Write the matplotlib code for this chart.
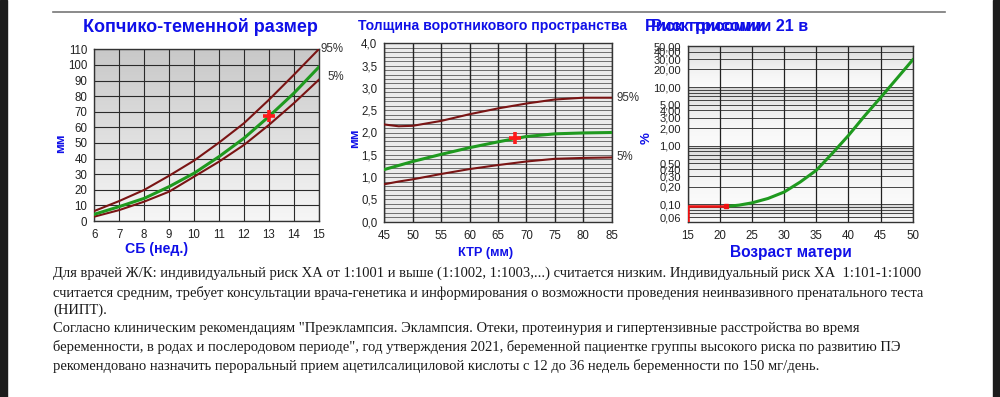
import matplotlib
matplotlib.use('Agg')
import matplotlib.pyplot as plt
import numpy as np
from matplotlib.patches import Rectangle
from matplotlib.lines import Line2D

# ---------------- data ----------------
crl_weeks = [6, 7, 8, 9, 10, 11, 12, 13, 14, 15]
crl_p95 = [6.4, 12.8, 19.9, 29.0, 38.7, 50.2, 62.6, 77.6, 93.6, 110.0]
crl_p50 = [4.3, 9.2, 14.5, 22.0, 30.6, 41.2, 53.0, 66.9, 81.8, 98.5]
crl_p5 = [2.8, 7.0, 12.4, 18.8, 28.4, 38.0, 48.7, 61.5, 75.4, 90.4]
crl_patient_x, crl_patient_y = 13, 67.5
crl_yticks = [0, 10, 20, 30, 40, 50, 60, 70, 80, 90, 100, 110]
crl_xticks = [6, 7, 8, 9, 10, 11, 12, 13, 14, 15]

nt_crl = [45, 47.5, 50, 55, 60, 65, 70, 75, 80, 85]
nt_p95 = [2.18, 2.14, 2.15, 2.26, 2.41, 2.54, 2.65, 2.74, 2.78, 2.78]
nt_p50 = [1.17, 1.26, 1.35, 1.51, 1.66, 1.79, 1.91, 1.97, 1.99, 2.00]
nt_p5 = [0.84, 0.90, 0.95, 1.07, 1.18, 1.27, 1.35, 1.41, 1.43, 1.44]
nt_patient_x, nt_patient_y = 68, 1.88
nt_yticks = [0.0, 0.5, 1.0, 1.5, 2.0, 2.5, 3.0, 3.5, 4.0]
nt_xticks = [45, 50, 55, 60, 65, 70, 75, 80, 85]

age = [21, 23, 25, 27.5, 30, 32.5, 35, 37.5, 40, 42.5, 45, 47.5, 50]
age_risk = [0.092, 0.097, 0.106, 0.126, 0.162, 0.24, 0.38, 0.74, 1.49, 3.2, 6.6, 13.8, 29.0]
patient_age, patient_risk = 21, 0.092
risk_yticks = [0.06, 0.10, 0.20, 0.30, 0.40, 0.50, 1.00, 2.00, 3.00, 4.00, 5.00,
               10.00, 20.00, 30.00, 40.00, 50.00]
risk_grid = [0.05, 0.06, 0.07, 0.08, 0.09, 0.1, 0.2, 0.3, 0.4, 0.5, 0.6, 0.7, 0.8, 0.9,
             1, 2, 3, 4, 5, 6, 7, 8, 9, 10, 20, 30, 40, 50]
age_xticks = [15, 20, 25, 30, 35, 40, 45, 50]

paragraph = [
    "Для врачей Ж/К: индивидуальный риск ХА от 1:1001 и выше (1:1002, 1:1003,...) считается низким. Индивидуальный риск ХА  1:101-1:1000",
    "считается средним, требует консультации врача-генетика и информирования о возможности проведения неинвазивного пренатального теста",
    "(НИПТ).",
    "Согласно клиническим рекомендациям \"Преэклампсия. Эклампсия. Отеки, протеинурия и гипертензивные расстройства во время",
    "беременности, в родах и послеродовом периоде\", год утверждения 2021, беременной пациентке группы высокого риска по развитию ПЭ",
    "рекомендовано назначить пероральный прием ацетилсалициловой кислоты с 12 до 36 недель беременности по 150 мг/день.",
]

# ---------------- figure ----------------
W, H = 1000, 397
fig = plt.figure(figsize=(W / 100, H / 100), dpi=100)
fig.patch.set_facecolor('white')
plt.rcParams['font.family'] = ['Liberation Sans', 'DejaVu Sans']

BLUE = '#1010e8'
DRED = '#7a1414'
GREEN = '#1f9a1f'
TICK = 8.3


def fx(x):
    return x / W


def fy(y):
    return 1 - y / H


def add_axes(x0, y0, x1, y1):
    return fig.add_axes([fx(x0), fy(y1), (x1 - x0) / W, (y1 - y0) / H])


renderer = fig.canvas.get_renderer()


def fit(t, width_px):
    bb = t.get_window_extent(renderer)
    t.set_fontsize(t.get_fontsize() * width_px / bb.width)


def gradient(ax, top, bottom, extent=None):
    g = np.linspace(0, 1, 256).reshape(-1, 1)
    ct = np.array(matplotlib.colors.to_rgb(top))
    cb = np.array(matplotlib.colors.to_rgb(bottom))
    img = ct[None, None, :] * (1 - g[:, :, None]) + cb[None, None, :] * g[:, :, None]
    ax.imshow(img, extent=extent if extent else (0, 1, 0, 1),
              transform=ax.transAxes if not extent else ax.transData,
              aspect='auto', zorder=0, interpolation='bilinear')


def style(ax):
    for s in ax.spines.values():
        s.set_color('#333333')
        s.set_linewidth(1.0)
    ax.tick_params(length=0, labelsize=TICK, colors='#222222')
    ax.tick_params(axis='y', pad=5)
    ax.tick_params(axis='x', pad=6)


# ---- left: CRL ----
ax1 = add_axes(94.3, 49.3, 318.7, 221)
gradient(ax1, '#c8c8c8', '#f6f6f6')
ax1.set_xlim(6, 15)
ax1.set_ylim(0, 110)
ax1.set_xticks(crl_xticks)
ax1.set_yticks(crl_yticks)
ax1.grid(True, color='#2a2a2a', linewidth=0.8, zorder=1)
ax1.set_axisbelow(True)
ax1.plot(crl_weeks, crl_p95, color=DRED, lw=1.5, zorder=3)
ax1.plot(crl_weeks, crl_p5, color=DRED, lw=1.5, zorder=3)
ax1.plot(crl_weeks, crl_p50, color=GREEN, lw=2.2, zorder=3)
ax1.plot([crl_patient_x], [crl_patient_y], marker='+', color='#ff1a1a', ms=9, mew=2.6, zorder=4)
style(ax1)
ax1.text(1.01, crl_p95[-1], '95%', transform=ax1.get_yaxis_transform(), fontsize=TICK, color='#333333',
         va='center', ha='left')
ax1.text(1.04, crl_p5[-1] + 2, '5%', transform=ax1.get_yaxis_transform(), fontsize=TICK, color='#333333',
         va='center', ha='left')

# ---- middle: NT ----
ax2 = add_axes(384.3, 43.3, 611.7, 221.7)
ax2.set_facecolor('#ebebeb')
ax2.set_xlim(45, 85)
ax2.set_ylim(0, 4.0)
ax2.set_xticks(nt_xticks)
ax2.set_yticks(nt_yticks)
ax2.set_yticklabels([f"{v:.1f}".replace('.', ',') for v in nt_yticks])
for v in np.arange(0.1, 4.0, 0.1):
    ax2.axhline(v, color='#666666', lw=0.65, zorder=1)
for v in nt_xticks:
    ax2.axvline(v, color='#222222', lw=1.0, zorder=1)
ax2.plot(nt_crl, nt_p95, color=DRED, lw=1.5, zorder=3)
ax2.plot(nt_crl, nt_p5, color=DRED, lw=1.5, zorder=3)
ax2.plot(nt_crl, nt_p50, color=GREEN, lw=2.2, zorder=3)
ax2.plot([nt_patient_x], [nt_patient_y], marker='+', color='#ff1a1a', ms=9, mew=2.6, zorder=4)
style(ax2)
ax2.text(1.02, nt_p95[-1], '95%', transform=ax2.get_yaxis_transform(), fontsize=TICK, color='#333333',
         va='center', ha='left')
ax2.text(1.02, nt_p5[-1], '5%', transform=ax2.get_yaxis_transform(), fontsize=TICK, color='#333333',
         va='center', ha='left')

# ---- right: maternal age risk ----
ax3 = add_axes(687.7, 46, 912.7, 222)
ax3.set_yscale('log')
ax3.set_xlim(15, 50)
ax3.set_ylim(0.05, 50)
for lo, hi in [(0.05, 0.1), (0.1, 1), (1, 10), (10, 50)]:
    gradient(ax3, '#d4d4d4', '#fbfbfb', extent=(15, 50, lo, hi))
ax3.set_xlim(15, 50)
ax3.set_ylim(0.05, 50)
ax3.set_xticks(age_xticks)
ax3.yaxis.set_minor_locator(matplotlib.ticker.NullLocator())
ax3.set_yticks(risk_yticks)
ax3.set_yticklabels([f"{v:.2f}".replace('.', ',') for v in risk_yticks])
for v in risk_grid:
    ax3.axhline(v, color='#444444', lw=0.7, zorder=1)
for v in age_xticks:
    ax3.axvline(v, color='#222222', lw=0.9, zorder=1)
ax3.plot(age, age_risk, color=GREEN, lw=2.2, zorder=3)
ax3.plot([15, 15, patient_age], [0.05, patient_risk, patient_risk], color='#ee1111', lw=1.8, zorder=4,
         solid_joinstyle='miter')
ax3.plot([patient_age], [patient_risk], marker='s', color='#ee1111', ms=3, zorder=5)
style(ax3)
ax3.tick_params(axis='y', labelsize=8, pad=5)

# ---- titles and axis labels ----
t = fig.text(fx(200), fy(27), 'Копчико-теменной размер', color=BLUE, fontweight='bold', fontsize=12,
             ha='center', va='center')
fit(t, 234)
t = fig.text(fx(492.5), fy(26), 'Толщина воротникового пространства', color=BLUE, fontweight='bold',
             fontsize=9, ha='center', va='center')
fit(t, 271)
t = fig.text(fx(808), fy(27), 'Риск трисомии 21 в', color=BLUE, fontweight='bold', fontsize=10.5,
             ha='right', va='center')
fit(t, 158)
fig.text(fx(645), fy(27), 'Риск трисомии', color=BLUE, fontweight='bold', fontsize=t.get_fontsize(),
         ha='left', va='center')

for x, y, s, w in [(156.5, 249.5, 'СБ (нед.)', 63), (485.5, 253, 'КТР (мм)', 55), (791, 252.5, 'Возраст матери', 122)]:
    t = fig.text(fx(x), fy(y), s, color=BLUE, fontweight='bold', fontsize=10, ha='center', va='center')
    fit(t, w)
for x, y, s in [(61, 143, 'мм'), (355, 138, 'мм'), (647, 138, '%')]:
    fig.text(fx(x), fy(y), s, color=BLUE, fontweight='bold', fontsize=9.5, ha='center', va='center',
             rotation=90)

# ---- paragraph ----
line_y = [273.3, 293.3, 310.7, 328.3, 347.3, 366]
probe = fig.text(fx(53), fy(293), paragraph[1], fontsize=10, family='Liberation Serif')
bb = probe.get_window_extent(renderer)
psize = 10 * (933 - 53) / bb.width
probe.remove()
for y, s in zip(line_y, paragraph):
    fig.text(fx(53), fy(y), s, fontsize=psize, family='Liberation Serif', color='#1a1a1a',
             ha='left', va='center')

# ---- screenshot decorations ----
fig.add_artist(Rectangle((0, 0), fx(7), 1, transform=fig.transFigure, color='#1c1c1c', zorder=10))
fig.add_artist(Rectangle((fx(993), 0), fx(7), 1, transform=fig.transFigure, color='#1c1c1c', zorder=10))
fig.add_artist(Line2D([fx(53), fx(945)], [fy(12), fy(12)], transform=fig.transFigure, color='#777777', lw=1.2))

fig.savefig('out.png', dpi=100, facecolor='white')
